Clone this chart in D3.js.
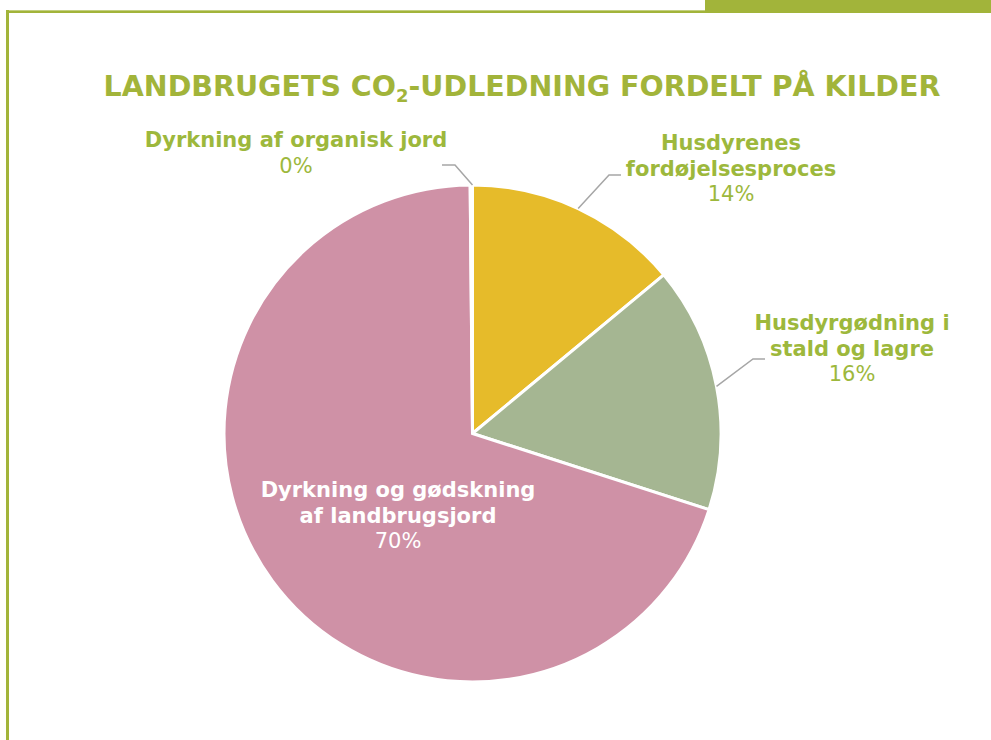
<!DOCTYPE html>
<html>
<head>
<meta charset="utf-8">
<script src="https://d3js.org/d3.v7.min.js"></script>
<style>
  body { margin: 0; background: #fff; }
  svg { display: block; }
</style>
</head>
<body>
<svg id="chart" width="991" height="740"></svg>
<script>
// slices, clockwise from 12 o'clock
const categories = ["Husdyrenes fordøjelsesproces", "Husdyrgødning i stald og lagre", "Dyrkning og gødskning af landbrugsjord", "Dyrkning af organisk jord"];
const values = [14, 16, 70, 0.15];
const pctLabels = ["14%", "16%", "70%", "0%"];
const labelLines = [["Husdyrenes", "fordøjelsesproces"], ["Husdyrgødning i", "stald og lagre"], ["Dyrkning og gødskning", "af landbrugsjord"], ["Dyrkning af organisk jord"]];
const colors = ["#E6BB2A", "#A5B692", "#CF91A6", "#CF91A6"];

const svg = d3.select("#chart");
const green = "#A2B43A";
const font = "'DejaVu Sans', Verdana, sans-serif";

// frame
svg.append("rect").attr("x", 705).attr("y", 0).attr("width", 286).attr("height", 13).attr("fill", green);
svg.append("rect").attr("x", 6).attr("y", 10).attr("width", 699).attr("height", 3).attr("fill", green);
svg.append("rect").attr("x", 6).attr("y", 10).attr("width", 699).attr("height", 1).attr("fill", "#c3cf80");
svg.append("rect").attr("x", 6).attr("y", 10).attr("width", 3).attr("height", 730).attr("fill", green);

// title
const title = svg.append("text")
  .attr("x", 522).attr("y", 96)
  .attr("text-anchor", "middle")
  .attr("font-family", font).attr("font-weight", "bold")
  .attr("font-size", 28.5).attr("fill", green);
title.append("tspan").text("LANDBRUGETS CO");
title.append("tspan").attr("font-size", 18).attr("dy", 6).text("2");
title.append("tspan").attr("dy", -6).text("-UDLEDNING FORDELT PÅ KILDER");

const cx = 472.5, cy = 433.5, r = 248.5;
const g = svg.append("g").attr("transform", `translate(${cx},${cy})`);

const pie = d3.pie().sort(null).value(d => d)(values);
const arc = d3.arc().innerRadius(0).outerRadius(r);
const edge = d3.arc().innerRadius(r).outerRadius(r);

g.selectAll("path.slice").data(pie).join("path")
  .attr("class", "slice")
  .attr("d", arc)
  .attr("fill", (d, i) => colors[i])
  .attr("stroke", "#fff")
  .attr("stroke-width", 3)
  .attr("stroke-linejoin", "round");

// label placement per slice
const place = [
  { elbow: [609, 175], end: 621, tx: 731, ty: 150, fill: "#9DB83C" },
  { elbow: [753, 359], end: 765, tx: 852, ty: 330, fill: "#9DB83C" },
  { elbow: null, end: null, tx: 398, ty: 497, fill: "#ffffff" },
  { elbow: [455, 165], end: 442, tx: 296, ty: 147, fill: "#9DB83C" }
];

pie.forEach((d, i) => {
  const p = place[i];
  if (p.elbow) {
    let s;
    if (i === 3) {
      s = [cx, cy - r];
    } else {
      const c = edge.centroid(d);
      s = [cx + c[0], cy + c[1]];
    }
    svg.append("polyline")
      .attr("points", [s, p.elbow, [p.end, p.elbow[1]]].map(q => q.join(",")).join(" "))
      .attr("fill", "none").attr("stroke", "#A6A6A6").attr("stroke-width", 1.5);
  }
  const t = svg.append("text")
    .attr("text-anchor", "middle")
    .attr("font-family", font)
    .attr("font-size", 21)
    .attr("fill", p.fill);
  labelLines[i].forEach((line, k) => {
    t.append("tspan").attr("x", p.tx).attr("y", p.ty + k * 25.5)
      .attr("font-weight", "bold").text(line);
  });
  t.append("tspan").attr("x", p.tx).attr("y", p.ty + labelLines[i].length * 25.5)
    .text(pctLabels[i]);
});
</script>
</body>
</html>
